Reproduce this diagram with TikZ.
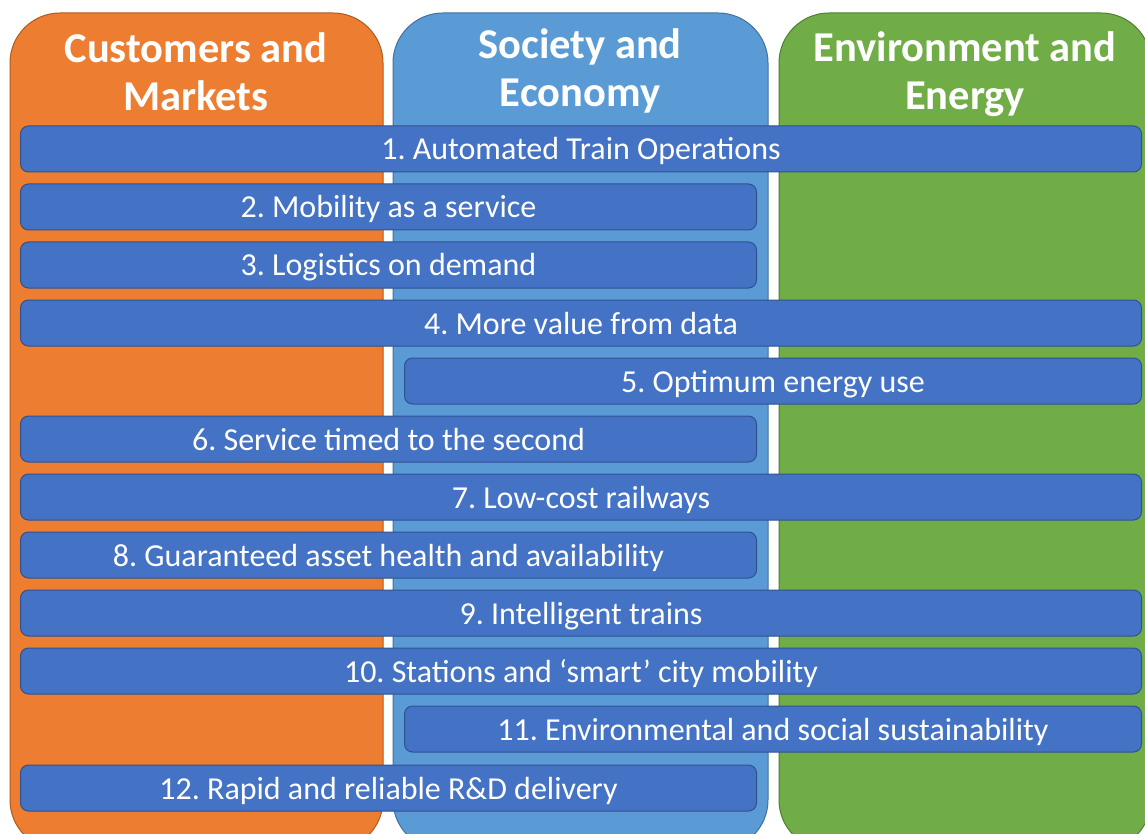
\documentclass[tikz,border=0pt]{standalone}
\usepackage{fontspec}
\setmainfont{Carlito}
\usepackage{tikz}
\usetikzlibrary{positioning}
\frenchspacing

\definecolor{cmorange}{HTML}{ED7D31}
\definecolor{cmline}{HTML}{AE5A21}
\definecolor{seblue}{HTML}{5B9BD5}
\definecolor{seline}{HTML}{41719C}
\definecolor{eegreen}{HTML}{70AD47}
\definecolor{eeline}{HTML}{507E32}
\definecolor{barblue}{HTML}{4472C4}
\definecolor{barline}{HTML}{2F528F}

\tikzset{
	col/.style={rounded corners=50pt, line width=1pt},
	head/.style={text=white, align=center, font=\bfseries\fontsize{42.5}{48}\selectfont},
	bar/.style={draw=barline, fill=barblue, line width=1pt, rounded corners=8pt,
		minimum height=46pt, inner sep=0pt, text height=25pt, text depth=3pt,
		text=white, font=\fontsize{32}{36}\selectfont},
	longbar/.style={bar, minimum width=1121pt},
	leftbar/.style={bar, minimum width=736pt},
	rightbar/.style={bar, minimum width=737pt}
}

\begin{document}
\begin{tikzpicture}[x=1pt, y=-1pt]
		\useasboundingbox (0,0) rectangle (1145,834);
		% Define columns
		\draw[col, fill=cmorange, draw=cmline] (10,13) rectangle (383,850);
		\draw[col, fill=seblue, draw=seline] (393,13) rectangle (768,850);
		\draw[col, fill=eegreen, draw=eeline] (779,13) rectangle (1151,850);
		\node[head] (cm) at (196,72) {Customers and\\Markets};
		\node[head] (se) at (580,71) {Society and\\Economy};
		\node[head] (ee) at (965,74) {Environment and\\Energy};
		% Define bars
		\node[longbar, anchor=west]  (b1)  at (20,149)  {1. Automated Train Operations};
		\node[leftbar, anchor=west]  (b2)  at (20,207)  {2. Mobility as a service};
		\node[leftbar, anchor=west]  (b3)  at (20,265)  {3. Logistics on demand};
		\node[longbar, anchor=west]  (b4)  at (20,323)  {4. More value from data};
		\node[rightbar, anchor=west] (b5)  at (404,381) {5. Optimum energy use};
		\node[leftbar, anchor=west]  (b6)  at (20,439)  {6. Service timed to the second};
		\node[longbar, anchor=west]  (b7)  at (20,497)  {7. Low-cost railways};
		\node[leftbar, anchor=west]  (b8)  at (20,555)  {8. Guaranteed asset health and availability};
		\node[longbar, anchor=west]  (b9)  at (20,613)  {9. Intelligent trains};
		\node[longbar, anchor=west]  (b10) at (20,671)  {10. Stations and ‘smart’ city mobility};
		\node[rightbar, anchor=west] (b11) at (404,729) {11. Environmental and social sustainability};
		\node[leftbar, anchor=west]  (b12) at (20,788)  {12. Rapid and reliable R\&D delivery};
	\end{tikzpicture}
\end{document}
